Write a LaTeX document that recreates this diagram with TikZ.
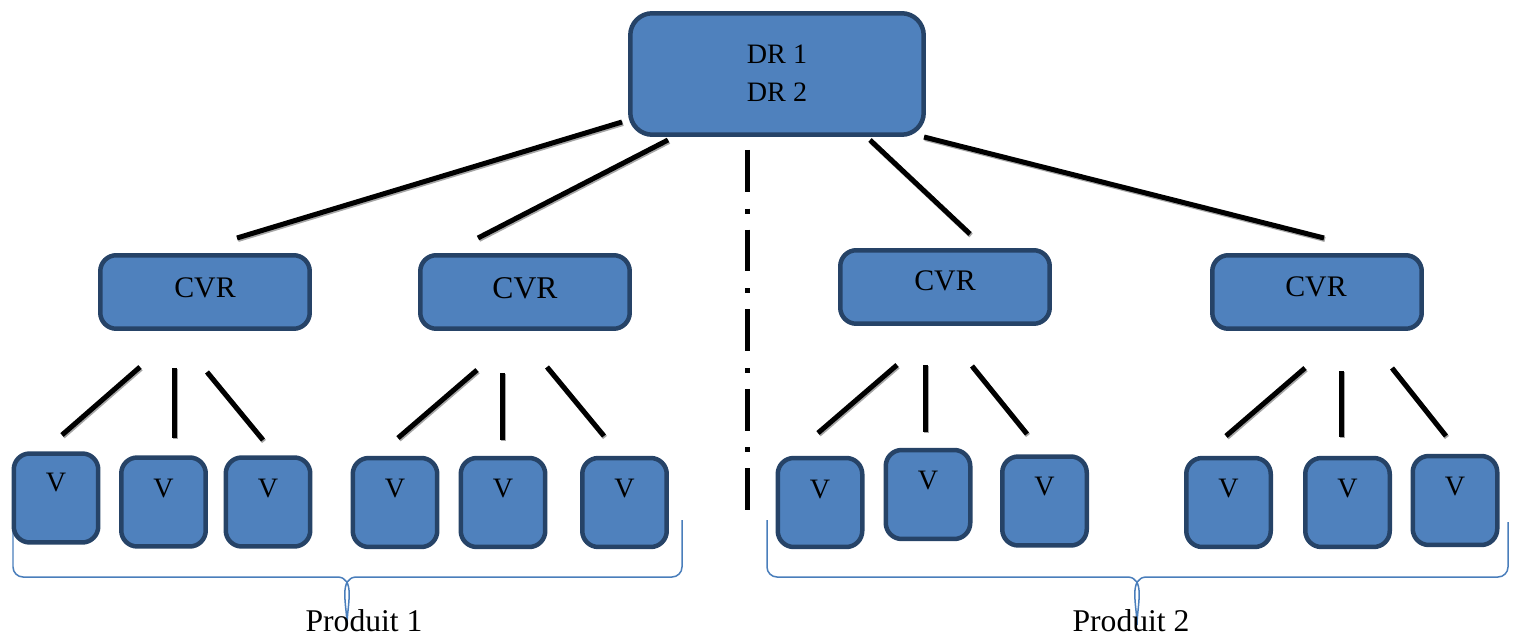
\documentclass[tikz,border=0pt]{standalone}
\usepackage{fontspec}
\setmainfont{Liberation Serif}
\definecolor{boxfill}{HTML}{4F81BD}
\definecolor{boxline}{HTML}{264367}
\definecolor{bracecol}{HTML}{4A7EBB}
\tikzset{
  px/.style={x=0.02cm,y=-0.02cm},
  box/.style={draw=boxline,fill=boxfill,line width=0.09cm,inner sep=0pt,outer sep=0pt},
  topbox/.style={box,rounded corners=0.44cm,minimum width=5.87cm,minimum height=2.43cm},
  cvrbox/.style={box,rounded corners=0.32cm,minimum width=4.19cm,minimum height=1.47cm},
  vbox/.style={box,rounded corners=0.32cm,minimum width=1.69cm,minimum height=1.78cm},
  lbl/.style={font=\fontsize{16}{19}\selectfont,inner sep=0pt},
  biglbl/.style={font=\fontsize{17}{20}\selectfont,inner sep=0pt},
  hugelbl/.style={font=\fontsize{18}{21}\selectfont,inner sep=0pt},
  link/.style={line width=0.1cm,black,
    preaction={draw=black!35,line width=0.1cm,transform canvas={shift={(0.02cm,-0.03cm)}}}},
  sep/.style={line width=0.1cm,black,dash pattern=on 23.8pt off 9.6pt on 2.8pt off 9.1pt},
  brace/.style={draw=bracecol,line width=0.03cm}
}
\begin{document}
\begin{tikzpicture}[px]
\useasboundingbox (0,0) rectangle (1515,638);

% braces under the two groups of sellers (drawn first, the boxes cover their ends)
\draw[brace] (13,520) -- (13,567) to[out=-90,in=180] (23,577) -- (337,577)
  to[out=0,in=90] (347,625) to[out=90,in=180] (357,577) -- (672,577)
  to[out=0,in=-90] (682,567) -- (682,520);
\draw[brace] (767,520) -- (767,567) to[out=-90,in=180] (777,577) -- (1127,577)
  to[out=0,in=90] (1137,625) to[out=90,in=180] (1147,577) -- (1498,577)
  to[out=0,in=-90] (1508,567) -- (1508,522);

% regional directors
\node[topbox] (dr) at (777,74) {};
\node[lbl] (dr1) at (777,54) {DR 1};
\node[lbl] (dr2) at (777,92) {DR 2};

% regional sales heads
\node[cvrbox] (c1) at (205,292) {};
\node[cvrbox] (c2) at (525,292) {};
\node[cvrbox] (c3) at (945,287) {};
\node[cvrbox] (c4) at (1317,292) {};
\node[biglbl] (t1) at (205,288) {CVR};
\node[hugelbl] (t2) at (525,288) {CVR};
\node[biglbl] (t3) at (945,281) {CVR};
\node[biglbl] (t4) at (1316,287) {CVR};

% sellers
\foreach \n/\x/\y/\ty in {1/56/498/483, 2/163.5/502/489, 3/268/502/489,
    4/395/502.5/489, 5/503/502.5/489, 6/624.5/502.5/489,
    7/820/502.5/490, 8/928/494.5/481, 9/1044.5/501/487,
    10/1228.5/502.5/489, 11/1347.5/502.5/489, 12/1455/500.5/487}{
  \node[vbox] (v\n) at (\x,\y) {};
  \node[lbl] (vt\n) at (\x,\ty) {V};
}

% ends of the connecting strokes
\coordinate (a1) at (622,122); \coordinate (b1) at (237,238);
\coordinate (a2) at (668,140); \coordinate (b2) at (478,238);
\coordinate (a3) at (870,140); \coordinate (b3) at (970,234);
\coordinate (a4) at (924,137); \coordinate (b4) at (1324,238);
\foreach \i in {1,...,4}{\draw[link] (a\i) -- (b\i);}

\coordinate (p1) at (140,367); \coordinate (q1) at (62,435);
\coordinate (p2) at (174,368); \coordinate (q2) at (174,438);
\coordinate (p3) at (207,372); \coordinate (q3) at (263,440);
\coordinate (p4) at (477,370); \coordinate (q4) at (398,438);
\coordinate (p5) at (502,373); \coordinate (q5) at (502,440);
\coordinate (p6) at (547,367); \coordinate (q6) at (604,436);
\coordinate (p7) at (897,365); \coordinate (q7) at (818,433);
\coordinate (p8) at (925,365); \coordinate (q8) at (925,432);
\coordinate (p9) at (972,366); \coordinate (q9) at (1027,434);
\coordinate (p10) at (1305,368); \coordinate (q10) at (1226,436);
\coordinate (p11) at (1341,371); \coordinate (q11) at (1341,437);
\coordinate (p12) at (1392,368); \coordinate (q12) at (1446,436);
\foreach \i in {1,...,12}{\draw[link] (p\i) -- (q\i);}

% separator between the two products
\coordinate (s1) at (747,150); \coordinate (s2) at (747,514);
\draw[sep] (s1) -- (s2);

% product labels
\node[hugelbl,anchor=base] (pr1) at (364,631) {Produit 1};
\node[hugelbl,anchor=base] (pr2) at (1131,631) {Produit 2};
\end{tikzpicture}
\end{document}
